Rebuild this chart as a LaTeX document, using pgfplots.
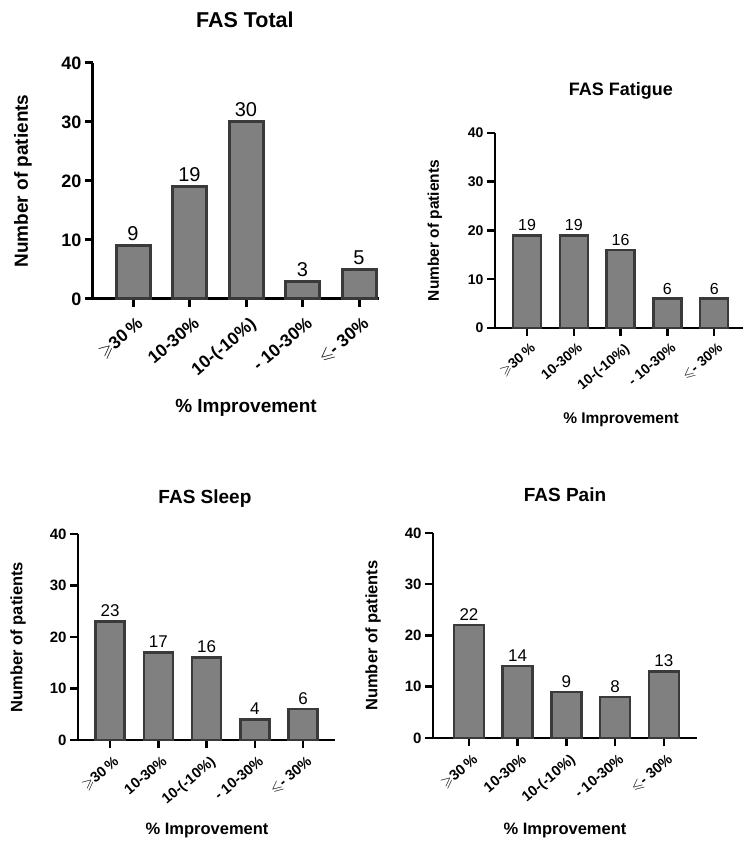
\documentclass[border=0pt]{standalone}
\usepackage{pgfplots}
\pgfplotsset{compat=1.18}
\usepackage{amssymb}
\usepackage{fontspec}
\setmainfont{Liberation Sans}
\definecolor{barfill}{HTML}{808080}
\definecolor{baredge}{HTML}{3A3A3A}
\newcommand{\fs}[1]{\fontsize{#1}{#1}\selectfont}
\newcommand{\GE}{$\geqslant$}
\newcommand{\LE}{$\leqslant$}
\pgfplotsset{
  fasbar/.style={
    scale only axis,
    anchor=south west,
    ymin=0, ymax=40,
    ytick={0,10,20,30,40},
    xtick={0,1,2,3,4},
    xticklabels={{\GE30\,\%},{10-30\%},{10-(-10\%)},{- 10-30\%},{\LE- 30\%}},
    axis lines=left,
    axis line style={-, line width=#1, black},
    x axis line style={shorten <=-8pt},
    tick style={line width=#1, black},
    tick align=outside,
    major tick length=8pt,
    ybar,
    nodes near coords,
    /pgf/number format/assume math mode=true,
    xticklabel style={xshift=3pt, rotate=40, anchor=north east, inner sep=0pt},
    clip=false,
  },
  barstyle/.style={fill=barfill, draw=baredge, line width=#1},
}
\begin{document}
\begin{tikzpicture}
\path[use as bounding box] (0,0) rectangle (744pt,841pt);

% FAS Total
\begin{axis}[fasbar=3pt,
  at={(93pt,542pt)}, width=286pt, height=236pt,
  xmin=-0.708, xmax=4.354, bar width=34pt,
  title={FAS Total},
  title style={at={(axis description cs:0.531,1.157)}, anchor=center, font=\fs{21.5}\bfseries},
  ylabel={Number of patients},
  ylabel style={at={(axis description cs:-0.245,0.5)}, anchor=center, font=\fs{19}\bfseries},
  xlabel={\% Improvement},
  xlabel style={at={(axis description cs:0.535,-0.462)}, anchor=center, font=\fs{19}\bfseries},
  yticklabel style={font=\fs{18}\bfseries},
  xticklabel style={font=\fs{17.5}\bfseries},
  xticklabel shift=9pt,
  nodes near coords style={font=\fs{20}},
]
\addplot[barstyle=3pt] coordinates {(0,9) (1,19) (2,30) (3,3) (4,5)};
\end{axis}

% FAS Fatigue
\begin{axis}[fasbar=2.5pt,
  at={(495pt,513pt)}, width=248pt, height=195pt,
  xmin=-0.684, xmax=4.615, bar width=28pt,
  title={FAS Fatigue},
  title style={at={(axis description cs:0.508,1.185)}, anchor=center, font=\fs{18}\bfseries},
  ylabel={Number of patients},
  ylabel style={at={(axis description cs:-0.242,0.5)}, anchor=center, font=\fs{15.5}\bfseries},
  xlabel={\% Improvement},
  xlabel style={at={(axis description cs:0.508,-0.472)}, anchor=center, font=\fs{15.5}\bfseries},
  yticklabel style={font=\fs{14}\bfseries},
  xticklabel style={font=\fs{14}\bfseries},
  xticklabel shift=6pt,
  nodes near coords style={font=\fs{16}},
]
\addplot[barstyle=2.5pt] coordinates {(0,19) (1,19) (2,16) (3,6) (4,6)};
\end{axis}

% FAS Sleep
\begin{axis}[fasbar=2.5pt,
  at={(78pt,101pt)}, width=257pt, height=206pt,
  xmin=-0.663, xmax=4.66, bar width=29pt,
  title={FAS Sleep},
  title style={at={(axis description cs:0.494,1.141)}, anchor=center, font=\fs{19}\bfseries},
  ylabel={Number of patients},
  ylabel style={at={(axis description cs:-0.233,0.5)}, anchor=center, font=\fs{16.5}\bfseries},
  xlabel={\% Improvement},
  xlabel style={at={(axis description cs:0.502,-0.437)}, anchor=center, font=\fs{16.5}\bfseries},
  yticklabel style={font=\fs{15}\bfseries},
  xticklabel style={font=\fs{14.5}\bfseries},
  xticklabel shift=7pt,
  nodes near coords style={font=\fs{17}},
]
\addplot[barstyle=2.5pt] coordinates {(0,23) (1,17) (2,16) (3,4) (4,6)};
\end{axis}

% FAS Pain
\begin{axis}[fasbar=2.5pt,
  at={(433pt,103pt)}, width=264pt, height=205pt,
  xmin=-0.738, xmax=4.68, bar width=30pt,
  title={FAS Pain},
  title style={at={(axis description cs:0.5,1.156)}, anchor=center, font=\fs{19}\bfseries},
  ylabel={Number of patients},
  ylabel style={at={(axis description cs:-0.227,0.5)}, anchor=center, font=\fs{16.5}\bfseries},
  xlabel={\% Improvement},
  xlabel style={at={(axis description cs:0.5,-0.449)}, anchor=center, font=\fs{16.5}\bfseries},
  yticklabel style={font=\fs{15}\bfseries},
  xticklabel style={font=\fs{14.5}\bfseries},
  xticklabel shift=7pt,
  nodes near coords style={font=\fs{17}},
]
\addplot[barstyle=2.5pt] coordinates {(0,22) (1,14) (2,9) (3,8) (4,13)};
\end{axis}
\end{tikzpicture}
\end{document}
